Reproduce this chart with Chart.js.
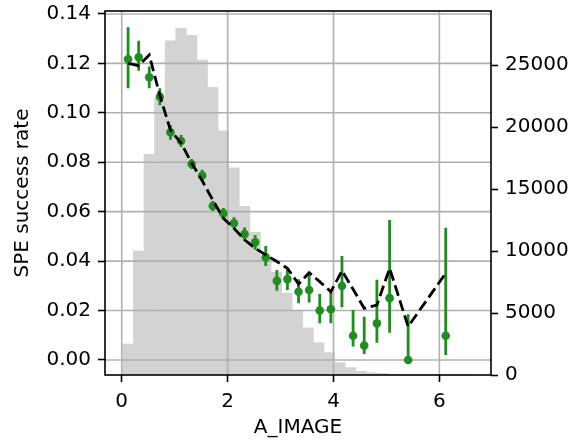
<!DOCTYPE html>
<html>
<head>
<meta charset="utf-8">
<script src="https://cdn.jsdelivr.net/npm/chart.js@4.4.1/dist/chart.umd.min.js"></script>
<style>
  html, body { margin: 0; padding: 0; background: #fff; }
</style>
</head>
<body>
<canvas id="chart" width="573" height="442"></canvas>
<script>
// histogram of A_IMAGE (right axis), bins of width 0.2 starting at 0.02
const histX = [0.12, 0.32, 0.52, 0.72, 0.92, 1.12, 1.32, 1.52, 1.72, 1.92, 2.12, 2.32,
    2.52, 2.72, 2.92, 3.12, 3.32, 3.52, 3.72, 3.92, 4.12, 4.32, 4.52, 4.72, 4.92, 5.12,
    5.32, 5.52, 5.72, 5.92, 6.12, 6.32, 6.52];
const histCounts = [2500, 10000, 17800, 22300, 26950, 27950, 27400, 25400, 23200, 19700,
    16700, 13600, 11500, 9500, 8300, 6600, 5200, 3800, 2600, 1800, 1000, 600, 300, 180,
    120, 70, 40, 25, 15, 10, 8, 5, 3];

// SPE success rate per bin (left axis)
const rateX = [0.12, 0.32, 0.52, 0.72, 0.92, 1.12, 1.32, 1.52, 1.72, 1.92, 2.12, 2.32,
    2.52, 2.72, 2.93, 3.13, 3.34, 3.54, 3.74, 3.95, 4.16, 4.37, 4.58, 4.82, 5.06, 5.41, 6.12];
const rate = [0.1217, 0.1225, 0.1144, 0.1065, 0.0921, 0.0886, 0.0793, 0.0746, 0.0623,
    0.0593, 0.0553, 0.0509, 0.0476, 0.0415, 0.0320, 0.0327, 0.0276, 0.0283, 0.0200,
    0.0205, 0.0299, 0.0098, 0.0058, 0.0148, 0.0250, 0.0000, 0.0098];
const rateLow = [0.1099, 0.1170, 0.1099, 0.1031, 0.0891, 0.0862, 0.0773, 0.0722, 0.0603,
    0.0571, 0.0529, 0.0482, 0.0446, 0.0380, 0.0280, 0.0283, 0.0229, 0.0232, 0.0148,
    0.0148, 0.0213, 0.0054, 0.0024, 0.0070, 0.0110, 0.0000, 0.0020];
const rateHigh = [0.1346, 0.1292, 0.1187, 0.1099, 0.0951, 0.0910, 0.0813, 0.0770, 0.0643,
    0.0615, 0.0577, 0.0536, 0.0506, 0.0461, 0.0364, 0.0371, 0.0326, 0.0344, 0.0267,
    0.0276, 0.0421, 0.0202, 0.0175, 0.0324, 0.0566, 0.0185, 0.0535];
// dashed model curve
const model = [0.1200, 0.1191, 0.1234, 0.1070, 0.0930, 0.0878, 0.0797, 0.0725, 0.0647,
    0.0573, 0.0533, 0.0486, 0.0452, 0.0425, 0.0398, 0.0371, 0.0307, 0.0353, 0.0317,
    0.0276, 0.0361, 0.0286, 0.0209, 0.0222, 0.0371, 0.0135, 0.0351];

const xTicks = [0, 2, 4, 6];
const yTicks = [0, 0.02, 0.04, 0.06, 0.08, 0.10, 0.12, 0.14];
const countTicks = [0, 5000, 10000, 15000, 20000, 25000];

const font = { family: "'DejaVu Sans', sans-serif", size: 20 };
const green = "#228b22";

const overlay = {
    id: "overlay",
    afterDatasetDraw(chart, args) {
        if (args.index !== 0) return;
        // grid drawn above the histogram, below the rate
        const { ctx, chartArea: a, scales } = chart;
        ctx.save();
        ctx.strokeStyle = "#b0b0b0";
        ctx.lineWidth = 1.6;
        ctx.beginPath();
        xTicks.forEach((v) => {
            const px = scales.x.getPixelForValue(v);
            ctx.moveTo(px, a.top);
            ctx.lineTo(px, a.bottom);
        });
        yTicks.forEach((v) => {
            const py = scales.y.getPixelForValue(v);
            ctx.moveTo(a.left, py);
            ctx.lineTo(a.right, py);
        });
        ctx.stroke();
        ctx.restore();
    },
    beforeDatasetDraw(chart, args) {
        if (args.index !== 1) return;
        const { ctx, scales } = chart;
        ctx.save();
        ctx.strokeStyle = green;
        ctx.lineWidth = 2.8;
        ctx.beginPath();
        rateX.forEach((x, i) => {
            const px = scales.x.getPixelForValue(x);
            ctx.moveTo(px, scales.y.getPixelForValue(rateLow[i]));
            ctx.lineTo(px, scales.y.getPixelForValue(rateHigh[i]));
        });
        ctx.stroke();
        ctx.restore();
    },
    afterDraw(chart) {
        const { ctx, chartArea: a } = chart;
        ctx.save();
        ctx.strokeStyle = "#000";
        ctx.lineWidth = 1.6;
        ctx.strokeRect(a.left, a.top, a.right - a.left, a.bottom - a.top);
        ctx.restore();
    },
};

const tickGrid = { drawOnChartArea: false, tickLength: 7, tickColor: "#000", tickWidth: 1.6 };

new Chart(document.getElementById("chart"), {
    type: "line",
    data: {
        datasets: [
            {
                type: "bar",
                data: histX.map((x, i) => ({ x, y: histCounts[i] })),
                xAxisID: "x",
                yAxisID: "y2",
                backgroundColor: "#d3d3d3",
                borderWidth: 0,
                barPercentage: 1,
                categoryPercentage: 1,
                grouped: false,
                order: 3,
            },
            {
                type: "line",
                data: rateX.map((x, i) => ({ x, y: rate[i] })),
                yAxisID: "y",
                showLine: false,
                pointRadius: 4.3,
                pointBackgroundColor: green,
                pointBorderWidth: 0,
                order: 2,
            },
            {
                type: "line",
                data: rateX.map((x, i) => ({ x, y: model[i] })),
                yAxisID: "y",
                borderColor: "#000",
                borderWidth: 2.8,
                borderDash: [11, 4.8],
                pointRadius: 0,
                fill: false,
                tension: 0,
                order: 1,
            },
        ],
    },
    options: {
        responsive: false,
        animation: false,
        layout: { padding: { top: 11, left: 0, right: 0, bottom: 0 } },
        plugins: { legend: { display: false }, tooltip: { enabled: false } },
        scales: {
            x: {
                type: "linear",
                min: -0.316,
                max: 6.975,
                offset: false,
                afterBuildTicks: (s) => { s.ticks = xTicks.map((v) => ({ value: v })); },
                afterFit: (s) => { s.height = 67; s.paddingLeft = 0; s.paddingRight = 0; },
                grid: { ...tickGrid, offset: false },
                border: { display: false },
                ticks: { font, color: "#000", padding: 8, maxRotation: 0, callback: (v) => String(v) },
                title: { display: true, text: "A_IMAGE", font, color: "#000", padding: { top: 0, bottom: 2 } },
            },
            y: {
                type: "linear",
                position: "left",
                min: -0.0061,
                max: 0.1412,
                afterBuildTicks: (s) => { s.ticks = yTicks.map((v) => ({ value: v })); },
                afterFit: (s) => { s.width = 105; s.paddingTop = 0; s.paddingBottom = 0; },
                grid: tickGrid,
                border: { display: false },
                ticks: { font, color: "#000", padding: 7, callback: (v) => v.toFixed(2) },
                title: { display: true, text: "SPE success rate", font, color: "#000", padding: { top: 11, bottom: 0 } },
            },
            y2: {
                type: "linear",
                position: "right",
                min: 0,
                max: 29355,
                afterBuildTicks: (s) => { s.ticks = countTicks.map((v) => ({ value: v })); },
                afterFit: (s) => { s.width = 82; s.paddingTop = 0; s.paddingBottom = 0; },
                grid: tickGrid,
                border: { display: false },
                ticks: { font, color: "#000", padding: 7, callback: (v) => String(v) },
            },
        },
    },
    plugins: [overlay],
});
</script>
</body>
</html>
